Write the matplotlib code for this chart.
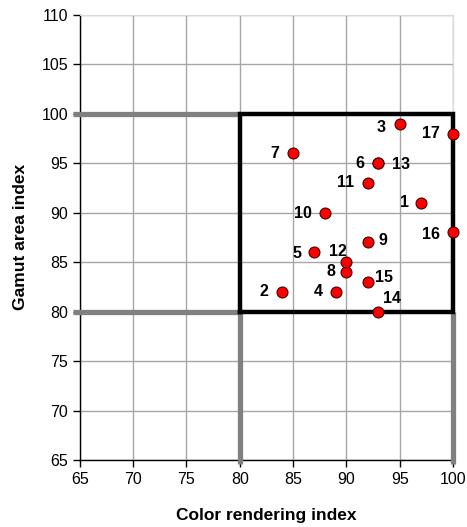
import matplotlib.pyplot as plt

# lamp data: colour rendering index vs gamut area index
ids = ['1', '2', '3', '4', '5', '6', '7', '8', '9', '10', '11', '12', '13', '14', '15', '16', '17']
cri = [97, 84, 95, 89, 87, 93, 85, 90, 92, 88, 92, 90, 93, 93, 92, 100, 100]
gai = [91, 82, 99, 82, 86, 95, 96, 84, 87, 90, 93, 85, 95, 80, 83, 88, 98]
# label offsets in pixels (dx, dy)
offsets = [(-17, 0), (-18, 0), (-19, -4), (-17, 0), (-17, -1), (-18, 0), (-18, 0), (-15, 1),
           (15, 2), (-22, -1), (-22, 0), (-8, 11), (23, -1), (14, 13), (16, 4), (-22, -2), (-22, 0)]

lo, hi = 80, 100

plt.rcParams['font.family'] = ['Liberation Sans', 'DejaVu Sans']

fig = plt.figure(figsize=(4.67, 5.27), dpi=100)
ax = fig.add_axes([0.171, 0.127, 0.799, 0.845])

ax.set_xlim(65, 100)
ax.set_ylim(65, 110)
ax.set_xticks(range(65, 101, 5))
ax.set_yticks(range(65, 111, 5))
ax.grid(True, color='#a6a6a6', linewidth=1.0, zorder=0)
ax.set_axisbelow(True)

for s in ['top', 'right']:
    ax.spines[s].set_color('#d9d9d9')
for s in ['left', 'bottom']:
    ax.spines[s].set_color('black')
    ax.spines[s].set_linewidth(1.0)

ax.tick_params(direction='out', length=5, width=1, labelsize=11.5, color='black')

# thick gray guide lines
g = dict(color='#808080', linewidth=3.8, clip_on=False, zorder=2.6, solid_capstyle='butt')
ax.plot([64.35, lo], [hi, hi], **g)
ax.plot([64.35, lo], [lo, lo], **g)
ax.plot([lo, lo], [64.6, lo], **g)
ax.plot([hi, hi], [64.6, lo], **g)

# black box
ax.plot([lo, hi, hi, lo, lo], [lo, lo, hi, hi, lo], color='black', linewidth=3.2,
        clip_on=False, zorder=3, solid_joinstyle='miter')

ax.scatter(cri, gai, s=62, color='#ff0000', edgecolors='#400000', linewidths=0.8,
           zorder=5, clip_on=False)

for lab, x, y, (dx, dy) in zip(ids, cri, gai, offsets):
    ax.annotate(lab, (x, y), xytext=(dx, dy), textcoords='offset pixels',
                ha='center', va='center', fontsize=11.5, fontweight='bold', zorder=6)

ax.set_xlabel('Color rendering index', fontsize=12.5, fontweight='bold', labelpad=15)
ax.set_ylabel('Gamut area index', fontsize=12.5, fontweight='bold', labelpad=10)

fig.savefig('out.png', dpi=100)
